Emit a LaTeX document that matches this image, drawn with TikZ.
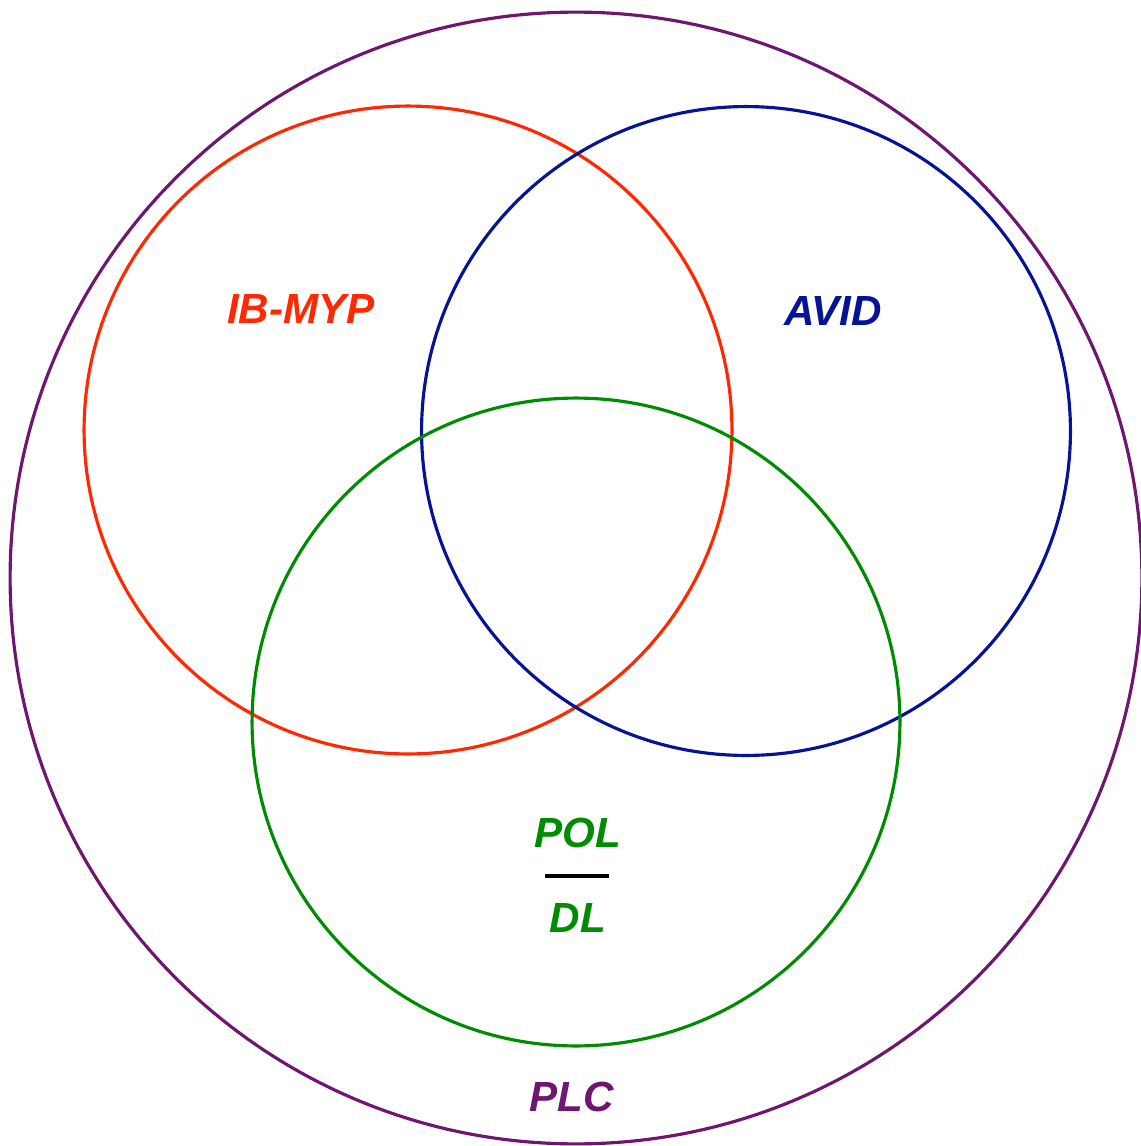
\documentclass[tikz,border=0pt]{standalone}
\usepackage{fontspec}
\setmainfont{Liberation Sans}
\usepackage{xcolor}
\usetikzlibrary{positioning}
\definecolor{ibred}{RGB}{255,40,0}
\definecolor{avidblue}{RGB}{5,20,150}
\definecolor{polgreen}{RGB}{0,140,0}
\definecolor{plcpurple}{RGB}{110,22,112}
\tikzset{every picture/.style={line width=1.8pt}}
\tikzset{
  set/.style={circle, draw, inner sep=0pt},
  lbl/.style={font=\fontsize{24}{28}\selectfont\bfseries\itshape}
}

\begin{document}
\begin{tikzpicture}[x=0.02cm, y=-0.02cm]
\useasboundingbox (0,0) rectangle (1141,1146);
\node[set, plcpurple, minimum size=22.64cm] (plc) at (576,578) {};
\node[set, ibred, minimum size=12.96cm] (ib) at (408,430) {};
\node[set, avidblue, minimum size=12.98cm] (avid) at (746,431) {};
\node[set, polgreen, minimum size=12.96cm] (pol) at (576,722) {};
\node[lbl, text=ibred] (1) at (301,309) {IB-MYP};
\node[lbl, text=avidblue] (2) at (833,311) {AVID};
\node[lbl, text=polgreen] (3) at (578,833) {POL};
\node[lbl, text=polgreen] (4) at (578,918) {DL};
\node[lbl, text=plcpurple] (5) at (572,1097) {PLC};
\coordinate (l1) at (545,876);
\coordinate (l2) at (609,876);
\draw[black, line width=2pt] (l1) -- (l2);
\end{tikzpicture}
\end{document}
